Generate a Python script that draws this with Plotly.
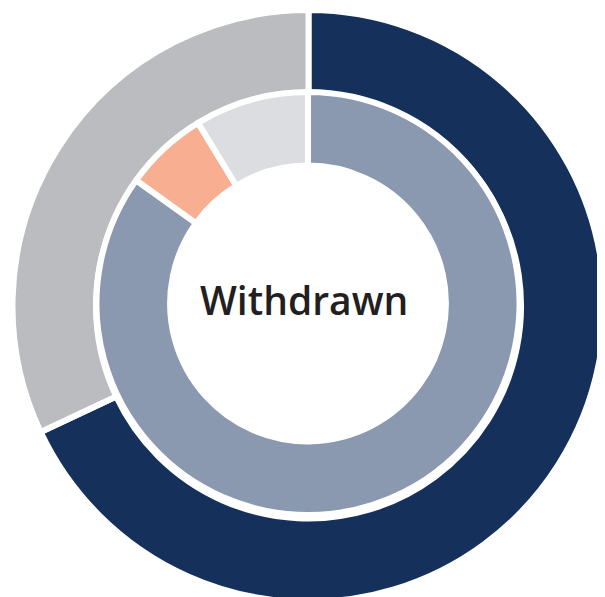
import plotly.graph_objects as go

# outer ring
outer_labels = ["Withdrawn", "Other"]
outer_values = [68, 32]
outer_colors = ["#15305A", "#BBBCC0"]

# inner ring
inner_labels = ["Withdrawn - A", "Withdrawn - B", "Withdrawn - C"]
inner_values = [84.9, 6.4, 8.7]
inner_colors = ["#8A99AF", "#F8AE91", "#DCDDE0"]

W, H = 605, 597


def dom(cx, cy, r):
    # cx, cy in px from the top-left corner of the figure
    return dict(x=[max(0, (cx - r) / W), min(1, (cx + r) / W)],
                y=[max(0, (H - cy - r) / H), min(1, (H - cy + r) / H)])


fig = go.Figure()
fig.add_trace(go.Pie(
    labels=outer_labels, values=outer_values, hole=0.718,
    sort=False, direction="clockwise", rotation=0,
    marker=dict(colors=outer_colors, line=dict(color="white", width=6)),
    textinfo="none", hoverinfo="label+percent",
    domain=dom(300.5, 298, 296),
))
fig.add_trace(go.Pie(
    labels=inner_labels, values=inner_values, hole=0.652,
    sort=False, direction="clockwise", rotation=0,
    marker=dict(colors=inner_colors, line=dict(color="white", width=6)),
    textinfo="none", hoverinfo="label+percent",
    domain=dom(300, 295.5, 211.5),
))

fig.add_annotation(
    text="Withdrawn", x=296 / W, y=1 - 291 / H, xref="paper", yref="paper",
    showarrow=False,
    font=dict(family="Open Sans", size=39, color="#231F20", weight=600),
)

fig.update_layout(
    width=W, height=H,
    margin=dict(l=0, r=0, t=0, b=0),
    showlegend=False,
    paper_bgcolor="white",
    plot_bgcolor="white",
)

fig.write_html("out.html")
